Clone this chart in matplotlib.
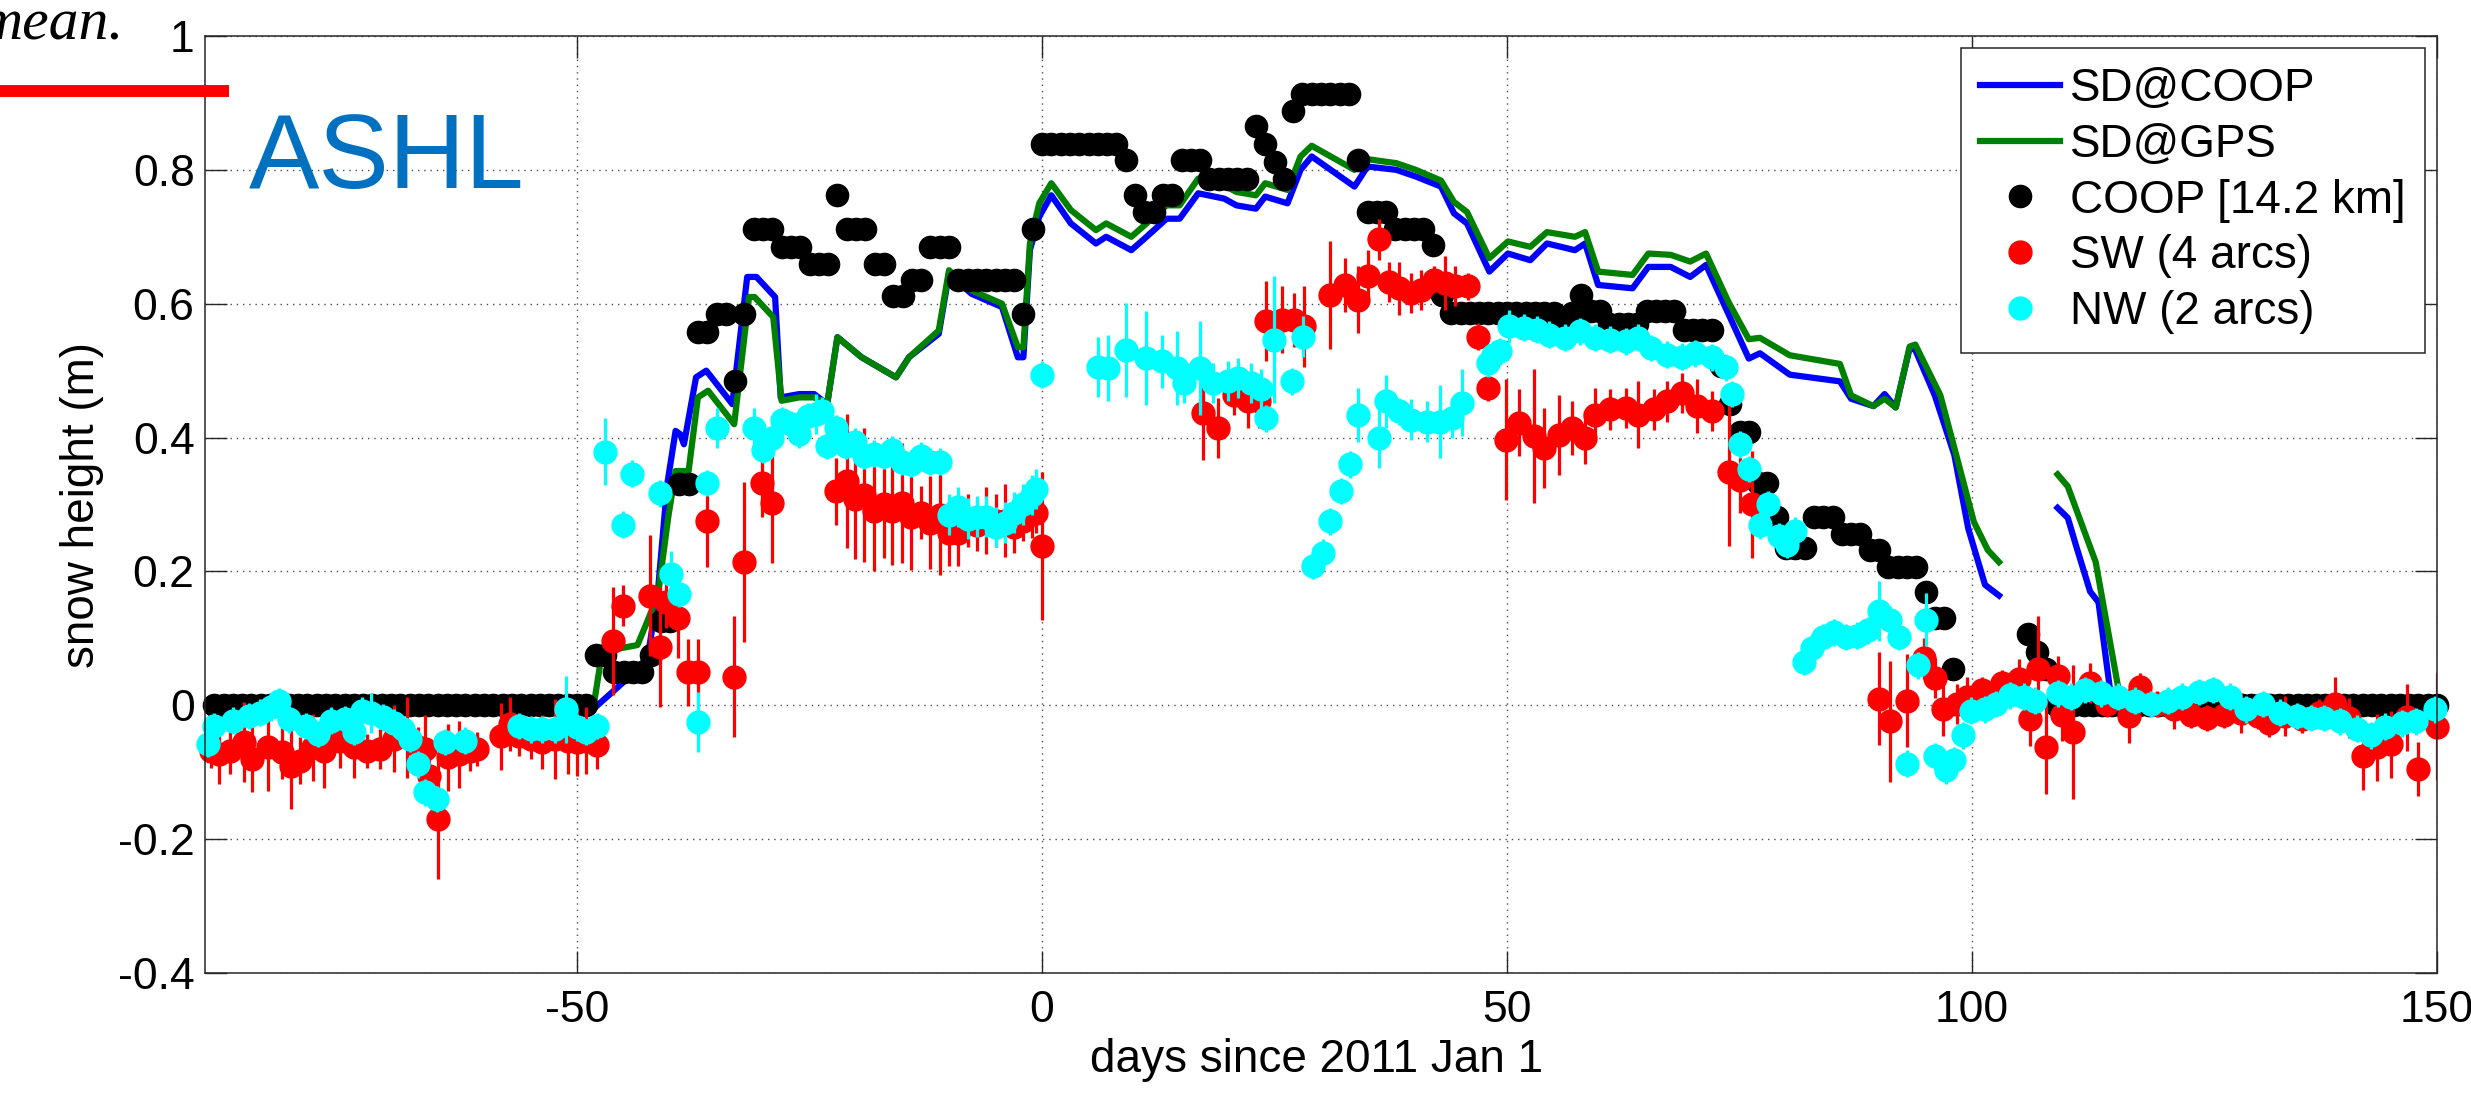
# snow height at ASHL: GPS reflection estimates vs. the nearby COOP station

import numpy as np
import matplotlib
matplotlib.use('Agg')
from matplotlib import pyplot as plt
from matplotlib.lines import Line2D

plt.rcParams['font.family'] = ['Liberation Sans', 'DejaVu Sans']
plt.rcParams['axes.unicode_minus'] = False

# modelled snow depth at the COOP site (NaN splits the two segments)
sd_coop_day = [-48.2, -43.2, -42.3, -41.3, -40.3, -39.4, -38.9, -38.5, -37.2, -36.1,
               -33.3, -31.7, -30.7, -28.7, -28.1, -26.1, -24.5, -23.1, -22.0, -19.4,
               -15.7, -14.3, -11.1, -10.0, -7.6, -4.3, -2.6, -2.0, -1.3, -0.3,
               1.0, 3.1, 5.8, 6.9, 9.6, 11.0, 13.4, 14.8, 16.8, 19.6,
               20.9, 23.0, 24.0, 26.4, 27.8, 29.0, 33.6, 35.0, 38.1, 40.2,
               42.9, 44.3, 45.7, 48.1, 50.1, 52.5, 54.3, 57.3, 58.4, 59.8,
               63.5, 65.2, 67.6, 69.7, 71.4, 73.8, 76.0, 77.2, 80.4, 85.8,
               87.0, 89.4, 90.6, 91.8, 93.3, 93.9, 96.0, 98.1, 99.6, 101.4,
               102.9, np.nan, 109.2, 110.3, 111.2, 112.7, 113.6, 114.8, 115.1, 121.0]
sd_coop = [-0.005, 0.057, 0.08, 0.17, 0.33, 0.41, 0.405, 0.39, 0.49, 0.50,
           0.45, 0.64, 0.64, 0.61, 0.46, 0.465, 0.465, 0.45, 0.55, 0.52,
           0.49, 0.52, 0.555, 0.645, 0.615, 0.595, 0.52, 0.52, 0.68, 0.73,
           0.762, 0.72, 0.69, 0.70, 0.68, 0.697, 0.727, 0.727, 0.765, 0.757,
           0.747, 0.742, 0.76, 0.75, 0.80, 0.82, 0.775, 0.805, 0.80, 0.79,
           0.775, 0.735, 0.72, 0.648, 0.675, 0.665, 0.69, 0.68, 0.69, 0.628,
           0.623, 0.655, 0.655, 0.64, 0.658, 0.585, 0.518, 0.526, 0.494, 0.484,
           0.458, 0.447, 0.465, 0.445, 0.534, 0.531, 0.463, 0.374, 0.264, 0.18,
           0.164, np.nan, 0.295, 0.28, 0.238, 0.17, 0.154, 0.028, 0.0, 0.0]

# modelled snow depth at the GPS site
sd_gps_day = [-48.2, -47.3, -43.5, -42.6, -41.3, -40.2, -39.4, -38.0, -37.0, -35.9,
              -33.1, -31.5, -30.9, -28.9, -28.0, -26.1, -24.5, -23.1, -22.0, -19.4,
              -15.7, -14.3, -11.1, -10.0, -7.6, -4.3, -2.6, -2.0, -1.3, -0.3,
              1.0, 3.1, 5.8, 6.9, 9.6, 11.0, 13.4, 14.8, 16.8, 19.6,
              20.9, 23.0, 24.0, 26.4, 27.8, 29.0, 33.6, 35.0, 38.1, 40.2,
              42.9, 44.3, 45.7, 48.1, 50.1, 52.5, 54.3, 57.3, 58.4, 59.8,
              63.5, 65.2, 67.6, 69.7, 71.4, 73.8, 76.0, 77.2, 80.4, 85.8,
              87.0, 89.4, 90.6, 91.8, 93.3, 93.9, 96.6, 98.4, 100.2, 101.7,
              102.9, np.nan, 109.2, 110.3, 113.3, 115.7, 116.0, 121.0]
sd_gps = [0.0, 0.08, 0.09, 0.12, 0.164, 0.28, 0.35, 0.35, 0.46, 0.47,
          0.42, 0.61, 0.61, 0.58, 0.455, 0.46, 0.46, 0.45, 0.55, 0.52,
          0.49, 0.52, 0.56, 0.65, 0.62, 0.60, 0.535, 0.535, 0.69, 0.75,
          0.78, 0.74, 0.71, 0.72, 0.70, 0.717, 0.747, 0.747, 0.787, 0.777,
          0.767, 0.762, 0.78, 0.77, 0.82, 0.836, 0.80, 0.816, 0.81, 0.80,
          0.784, 0.752, 0.737, 0.668, 0.693, 0.685, 0.707, 0.70, 0.707, 0.648,
          0.643, 0.675, 0.673, 0.663, 0.675, 0.603, 0.547, 0.549, 0.523, 0.51,
          0.463, 0.447, 0.458, 0.445, 0.536, 0.539, 0.463, 0.369, 0.274, 0.232,
          0.214, np.nan, 0.345, 0.327, 0.214, 0.028, 0.0, 0.0]

# COOP daily snow depth, stored as runs of equal value (first day, last day, depth)
coop_first = [-89, -48, -46, -42, -41, -39, -37, -35, -33, -32, -31, -28, -25, -22, -21,
              -18, -16, -14, -12, -9, -2, -1, 0, 9, 10, 11, 13, 15, 18, 23,
              24, 25, 26, 27, 28, 34, 35, 38, 42, 43, 44, 56, 57, 58, 59,
              61, 65, 69, 73, 74, 75, 77, 79, 80, 83, 86, 89, 91, 95, 96,
              98, 106, 107, 108, 109]
coop_last = [-49, -47, -43, -42, -40, -38, -36, -34, -33, -32, -29, -26, -23, -22, -19,
             -17, -15, -13, -10, -3, -2, -1, 8, 9, 10, 12, 14, 17, 22, 23,
             24, 25, 26, 27, 33, 34, 37, 41, 42, 43, 55, 56, 57, 58, 60,
             64, 68, 72, 73, 74, 76, 78, 79, 82, 85, 88, 90, 94, 95, 97,
             98, 106, 107, 108, 150]
coop_depth = [0.0, 0.075, 0.05, 0.075, 0.126, 0.33, 0.558, 0.585, 0.485, 0.585, 0.712, 0.685, 0.659, 0.762, 0.712,
              0.659, 0.612, 0.635, 0.685, 0.635, 0.585, 0.712, 0.838, 0.814, 0.762, 0.737, 0.762, 0.814, 0.787, 0.866,
              0.838, 0.812, 0.787, 0.888, 0.913, 0.814, 0.737, 0.712, 0.688, 0.613, 0.586, 0.569, 0.586, 0.613, 0.589,
              0.569, 0.589, 0.561, 0.507, 0.45, 0.408, 0.332, 0.282, 0.235, 0.282, 0.256, 0.232, 0.206, 0.17, 0.13,
              0.054, 0.107, 0.08, 0.054, 0.0]

# SW arcs: day, snow height, one-sigma
sw_day = [-89.4, -88.5, -87.3, -85.8, -84.9, -83.2, -81.7, -80.8, -79.8, -78.4,
          -77.2, -75.5, -74.0, -72.6, -71.2, -69.7, -68.3, -67.1, -66.3, -65.9,
          -65.0, -63.9, -62.7, -61.5, -60.8, -58.2, -57.2, -56.2, -55.0, -53.8,
          -52.4, -51.0, -50.0, -49.0, -47.8,
          -46.1, -45.1, -42.1, -41.1, -40.4, -39.1, -38.1, -37.0, -36.0, -33.1,
          -32.0, -30.1, -29.0, -22.1, -21.0, -20.1, -19.1, -18.1, -17.0, -16.1,
          -15.1, -14.1, -13.0, -12.0, -11.0, -10.0, -9.0, -8.0, -7.0, -6.0,
          -5.0, -4.0, -3.0, -2.0, -1.1, -0.6, 0.0,
          17.3, 18.9, 20.6, 22.2, 23.3, 24.1, 25.8, 27.1, 28.2, 31.0,
          32.6, 34.0, 35.1, 36.2, 37.3, 38.4, 39.7, 40.8, 42.2, 43.3,
          44.4, 45.8, 46.9, 48.0, 49.9, 51.3, 52.9, 54.0, 55.6, 57.0,
          58.4, 59.5, 61.1, 62.8, 64.1, 65.8, 67.2, 68.8, 70.4, 72.0,
          73.9, 75.1, 76.3,
          90.0, 91.2, 93.0, 94.8, 96.0, 96.9, 98.4, 99.5, 101.1, 103.2,
          105.0, 106.2, 107.1, 108.0, 109.2, 109.7, 110.9, 112.7, 114.5, 116.9,
          118.1, 119.9, 121.7, 123.5, 125.3, 127.1, 128.9, 130.7, 131.9, 133.7,
          135.5, 137.3, 139.0, 140.5, 142.0, 143.5, 145.0, 146.8, 148.0, 150.0]
sw_val = [-0.068, -0.073, -0.068, -0.055, -0.08, -0.063, -0.07, -0.09, -0.083, -0.063,
          -0.068, -0.053, -0.063, -0.068, -0.065, -0.05, -0.048, -0.063, -0.065, -0.105,
          -0.17, -0.078, -0.073, -0.068, -0.065, -0.046, -0.028, -0.046, -0.05, -0.055,
          -0.05, -0.053, -0.055, -0.053, -0.06,
          0.096, 0.149, 0.164, 0.087, 0.155, 0.131, 0.049, 0.049, 0.276, 0.043,
          0.214, 0.332, 0.302, 0.32, 0.335, 0.308, 0.314, 0.29, 0.30, 0.29,
          0.302, 0.282, 0.288, 0.273, 0.285, 0.258, 0.258, 0.276, 0.27, 0.276,
          0.276, 0.276, 0.267, 0.276, 0.29, 0.288, 0.238,
          0.437, 0.414, 0.464, 0.454, 0.454, 0.574, 0.576, 0.576, 0.566, 0.613,
          0.628, 0.606, 0.641, 0.696, 0.633, 0.623, 0.616, 0.621, 0.636, 0.631,
          0.626, 0.626, 0.551, 0.474, 0.397, 0.422, 0.402, 0.384, 0.404, 0.414,
          0.40, 0.434, 0.442, 0.444, 0.434, 0.442, 0.454, 0.467, 0.447, 0.44,
          0.348, 0.337, 0.30,
          0.01, -0.024, 0.007, 0.07, 0.041, -0.006, 0.002, 0.012, 0.023, 0.033,
          0.039, -0.021, 0.054, -0.063, 0.044, -0.014, -0.04, 0.033, 0.002, -0.016,
          0.028, 0.002, -0.006, -0.014, -0.019, -0.014, -0.011, -0.016, -0.027, -0.016,
          -0.021, -0.011, 0.002, -0.019, -0.076, -0.063, -0.058, -0.018, -0.095, -0.032]
sw_err = [0.025, 0.045, 0.035, 0.06, 0.05, 0.065, 0.04, 0.065, 0.035, 0.05,
          0.055, 0.04, 0.045, 0.025, 0.03, 0.05, 0.06, 0.03, 0.05, 0.03,
          0.09, 0.05, 0.05, 0.03, 0.025, 0.05, 0.04, 0.03, 0.03, 0.04,
          0.06, 0.05, 0.05, 0.05, 0.035,
          0.08, 0.03, 0.09, 0.09, 0.04, 0.06, 0.05, 0.05, 0.07, 0.09,
          0.12, 0.05, 0.09, 0.05, 0.10, 0.09, 0.10, 0.09, 0.08, 0.08,
          0.09, 0.08, 0.04, 0.07, 0.09, 0.05, 0.05, 0.04, 0.04, 0.05,
          0.04, 0.055, 0.04, 0.03, 0.04, 0.03, 0.11,
          0.07, 0.045, 0.03, 0.04, 0.04, 0.06, 0.05, 0.04, 0.06, 0.08,
          0.04, 0.05, 0.04, 0.03, 0.03, 0.04, 0.03, 0.03, 0.02, 0.04,
          0.03, 0.02, 0.02, 0.02, 0.09, 0.05, 0.10, 0.06, 0.06, 0.04,
          0.04, 0.04, 0.03, 0.03, 0.05, 0.03, 0.03, 0.03, 0.04, 0.03,
          0.11, 0.05, 0.08,
          0.07, 0.09, 0.07, 0.03, 0.03, 0.04, 0.03, 0.03, 0.02, 0.02,
          0.03, 0.04, 0.08, 0.07, 0.03, 0.04, 0.10, 0.03, 0.02, 0.04,
          0.02, 0.02, 0.03, 0.02, 0.02, 0.02, 0.03, 0.02, 0.02, 0.03,
          0.02, 0.02, 0.04, 0.03, 0.05, 0.05, 0.05, 0.05, 0.04, 0.08]

# NW arcs: day, snow height, one-sigma
nw_day = [-89.7, -89.0, -87.0, -85.3, -84.1, -82.9, -82.0, -81.0, -79.1, -77.9,
          -76.4, -75.0, -74.0, -73.1, -72.1, -70.9, -69.7, -68.7, -68.0, -67.1,
          -66.3, -65.1, -64.2, -62.0, -56.2, -55.0, -53.8, -52.4, -51.2, -50.0,
          -49.0, -47.8,
          -47.0, -45.1, -44.1, -41.1, -39.9, -39.0, -37.0, -36.0, -35.0, -31.0,
          -30.0, -29.0, -28.0, -27.0, -26.1, -25.2, -24.3, -23.7, -23.1, -22.1,
          -21.1, -20.1, -19.1, -18.1, -17.0, -16.1, -15.1, -14.1, -13.0, -12.0,
          -11.0, -10.0, -9.0, -8.0, -7.0, -6.0, -5.0, -4.0, -3.0, -2.0,
          -1.1, -0.6, 0.0,
          6.0, 7.1, 9.0, 11.2, 12.9, 14.5, 15.3, 17.0, 18.4, 20.0,
          21.1, 22.5, 23.6, 24.1, 24.9, 26.9, 28.1, 29.1, 30.2, 31.0,
          32.1, 33.1, 34.0, 36.2, 37.0, 38.4, 39.7, 41.4, 42.8, 44.1,
          45.2, 48.0, 48.5, 49.3, 50.2, 51.8, 53.2, 54.5, 56.2, 57.8,
          59.5, 61.1, 62.8, 64.1, 65.5, 67.2, 68.8, 70.2, 72.0, 73.5,
          74.2, 75.1, 76.0, 77.2, 78.1, 79.2, 80.1, 81.0, 81.9, 82.8,
          84.0, 85.2, 86.4, 87.6, 88.8, 90.0, 91.2, 92.1, 93.0, 94.2,
          95.1, 96.0, 97.2, 98.1, 99.0, 99.9, 101.4, 102.6, 104.1, 105.6,
          106.8, 109.2, 110.6, 112.1, 113.9, 115.7, 117.5, 119.3, 121.1, 122.6,
          124.4, 125.9, 127.7, 129.5, 131.3, 133.1, 134.9, 136.4, 137.9, 139.6,
          141.4, 142.9, 144.4, 146.2, 147.7, 149.8]
nw_val = [-0.058, -0.031, -0.023, -0.016, -0.011, -0.003, 0.006, -0.021, -0.031, -0.043,
          -0.023, -0.021, -0.04, -0.008, -0.011, -0.018, -0.026, -0.036, -0.05, -0.088,
          -0.13, -0.14, -0.055, -0.053, -0.031, -0.036, -0.036, -0.036, -0.006, -0.033,
          -0.04, -0.031,
          0.379, 0.27, 0.346, 0.317, 0.196, 0.167, -0.025, 0.332, 0.414, 0.414,
          0.382, 0.399, 0.426, 0.42, 0.405, 0.432, 0.435, 0.44, 0.388, 0.414,
          0.388, 0.394, 0.373, 0.376, 0.373, 0.382, 0.364, 0.361, 0.373, 0.364,
          0.364, 0.285, 0.296, 0.279, 0.282, 0.282, 0.267, 0.273, 0.288, 0.30,
          0.314, 0.323, 0.494,
          0.506, 0.504, 0.531, 0.519, 0.514, 0.504, 0.481, 0.504, 0.481, 0.484,
          0.489, 0.481, 0.472, 0.429, 0.546, 0.484, 0.551, 0.208, 0.228, 0.275,
          0.32, 0.36, 0.434, 0.40, 0.454, 0.439, 0.427, 0.424, 0.424, 0.429,
          0.452, 0.511, 0.524, 0.529, 0.566, 0.564, 0.561, 0.554, 0.549, 0.559,
          0.549, 0.546, 0.544, 0.549, 0.534, 0.524, 0.521, 0.526, 0.52, 0.505,
          0.465, 0.39, 0.353, 0.269, 0.30, 0.253, 0.24, 0.261, 0.065, 0.086,
          0.102, 0.109, 0.102, 0.104, 0.112, 0.141, 0.128, 0.102, -0.087, 0.06,
          0.128, -0.076, -0.097, -0.082, -0.045, -0.008, -0.006, 0.002, 0.015, 0.013,
          0.007, 0.018, 0.013, 0.023, 0.018, 0.013, 0.007, 0.002, 0.007, 0.013,
          0.02, 0.023, 0.013, -0.006, 0.002, -0.011, -0.016, -0.019, -0.019, -0.024,
          -0.035, -0.045, -0.032, -0.027, -0.024, -0.006]
nw_err = [0.02, 0.02, 0.02, 0.02, 0.02, 0.02, 0.02, 0.02, 0.02, 0.02,
          0.02, 0.02, 0.02, 0.02, 0.03, 0.02, 0.02, 0.02, 0.02, 0.02,
          0.02, 0.02, 0.02, 0.02, 0.02, 0.02, 0.02, 0.02, 0.05, 0.02,
          0.02, 0.02,
          0.05, 0.02, 0.02, 0.02, 0.035, 0.02, 0.045, 0.02, 0.03, 0.03,
          0.02, 0.02, 0.02, 0.02, 0.02, 0.02, 0.03, 0.02, 0.02, 0.02,
          0.02, 0.02, 0.02, 0.02, 0.02, 0.02, 0.02, 0.02, 0.02, 0.02,
          0.02, 0.03, 0.03, 0.03, 0.03, 0.03, 0.03, 0.03, 0.03, 0.03,
          0.03, 0.03, 0.02,
          0.045, 0.05, 0.07, 0.07, 0.04, 0.055, 0.03, 0.07, 0.03, 0.03,
          0.03, 0.03, 0.03, 0.02, 0.095, 0.02, 0.03, 0.02, 0.02, 0.02,
          0.02, 0.02, 0.04, 0.045, 0.04, 0.02, 0.03, 0.03, 0.055, 0.03,
          0.05, 0.02, 0.02, 0.02, 0.025, 0.02, 0.02, 0.02, 0.02, 0.02,
          0.02, 0.02, 0.02, 0.02, 0.02, 0.02, 0.02, 0.02, 0.02, 0.02,
          0.02, 0.02, 0.02, 0.02, 0.02, 0.02, 0.02, 0.02, 0.02, 0.02,
          0.02, 0.02, 0.02, 0.02, 0.02, 0.045, 0.02, 0.02, 0.02, 0.02,
          0.04, 0.02, 0.02, 0.02, 0.02, 0.02, 0.02, 0.02, 0.02, 0.02,
          0.02, 0.02, 0.02, 0.02, 0.02, 0.02, 0.02, 0.02, 0.02, 0.02,
          0.02, 0.02, 0.02, 0.02, 0.02, 0.02, 0.02, 0.02, 0.02, 0.02,
          0.02, 0.02, 0.02, 0.02, 0.02, 0.02]

x_ticks = [-50, 0, 50, 100, 150]
y_ticks = [-0.4, -0.2, 0, 0.2, 0.4, 0.6, 0.8, 1.0]
y_tick_labels = ['-0.4', '-0.2', '0', '0.2', '0.4', '0.6', '0.8', '1']

# expand the COOP runs into one value per day
coop_day = np.concatenate([np.arange(a, b + 1) for a, b in zip(coop_first, coop_last)])
coop_val = np.concatenate([np.full(b - a + 1, d) for a, b, d in zip(coop_first, coop_last, coop_depth)])

W, H = 2471, 1109
fig = plt.figure(figsize=(W / 100, H / 100), dpi=100)
ax = fig.add_axes([205 / W, 136 / H, 2232 / W, 937 / H])

ax.plot(sd_coop_day, sd_coop, color=(0, 0, 1), lw=4.5, label='SD@COOP')
ax.plot(sd_gps_day, sd_gps, color=(0, 0.5, 0), lw=4.5, label='SD@GPS')
ax.plot(coop_day, coop_val, 'o', color='k', ms=16, ls='none', clip_on=False,
        label='COOP [14.2 km]')

ax.errorbar(sw_day, sw_val, yerr=sw_err, fmt='none', ecolor=(1, 0, 0), elinewidth=2.3, capsize=0)
ax.plot(sw_day, sw_val, 'o', color=(1, 0, 0), ms=16.5, ls='none', clip_on=False, label='SW (4 arcs)')
ax.errorbar(nw_day, nw_val, yerr=nw_err, fmt='none', ecolor=(0, 1, 1), elinewidth=2.3, capsize=0)
ax.plot(nw_day, nw_val, 'o', color=(0, 1, 1), ms=16.5, ls='none', clip_on=False, label='NW (2 arcs)')

ax.set_xlim(-90, 150)
ax.set_ylim(-0.4, 1.0)
ax.set_xticks(x_ticks)
ax.set_yticks(y_ticks)
ax.set_yticklabels(y_tick_labels)
ax.set_axisbelow(True)
ax.grid(True, ls=(0, (1, 3.5)), color='0.3', lw=1)
ax.tick_params(direction='in', length=15.8, width=1, top=True, right=True,
               labelsize=32, colors='0.15', labelcolor='k')
ax.tick_params(axis='x', pad=12)
ax.tick_params(axis='y', pad=7.5)
for s in ax.spines.values():
    s.set_linewidth(1.1)
    s.set_color('0.15')

ax.set_xlabel('days since 2011 Jan 1', fontsize=33)
ax.xaxis.set_label_coords(0.498, -0.0694)
ax.set_ylabel('snow height (m)', fontsize=33)
ax.yaxis.set_label_coords(-0.0452, 0.5)

ax.text(0.0197, 0.8378, 'ASHL', transform=ax.transAxes, fontsize=76,
        color='#0070C0', ha='left', va='baseline')

leg = ax.legend(loc='upper right', fontsize=33, frameon=True, fancybox=False,
                edgecolor='0.15', framealpha=1, borderaxespad=0.27, borderpad=0.41,
                labelspacing=0.255, handlelength=1.75, handletextpad=0.22, numpoints=1)
leg.get_frame().set_linewidth(1.1)

# leftover caption fragment and red rule above the panel
fig.text(124 / W, 1 - 40 / H, 'mean.', family=['Liberation Serif', 'DejaVu Serif'],
         style='italic', fontsize=43, ha='right', va='baseline')
fig.add_artist(Line2D([0, 229 / W], [1 - 91 / H, 1 - 91 / H], color=(1, 0, 0), lw=8.6,
                      solid_capstyle='butt', transform=fig.transFigure))

fig.savefig('out.png', dpi=100)
